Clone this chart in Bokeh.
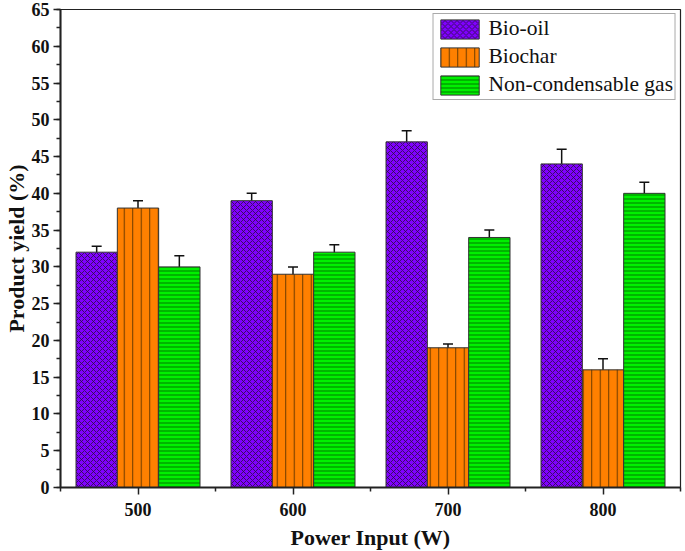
from bokeh.plotting import figure
from bokeh.models import ColumnDataSource, FixedTicker, Whisker, TeeHead, Legend, LegendItem
from bokeh.embed import file_html
from bokeh.resources import INLINE

# ---- data ----
power = [500, 600, 700, 800]
bio_oil = [32, 39, 47, 44]
bio_oil_err = [0.8, 1.0, 1.5, 2.0]
biochar = [38, 29, 19, 16]
biochar_err = [1.0, 1.0, 0.5, 1.5]
gas = [30, 32, 34, 40]
gas_err = [1.5, 1.0, 1.0, 1.5]
series_names = ["Bio-oil", "Biochar", "Non-condensable gas"]
y_ticks = list(range(0, 66, 5))

bar_w = 100 * 0.8 / 3

FONT = "Liberation Serif"

p = figure(frame_width=620, frame_height=478, x_range=(450, 850), y_range=(0, 65),
           output_backend="svg", toolbar_location=None,
           min_border_left=51, min_border_right=3, min_border_top=9, min_border_bottom=60)

p.xgrid.visible = False
p.ygrid.visible = False
p.outline_line_color = "#222222"
p.outline_line_width = 1.2
p.background_fill_color = "white"
p.border_fill_color = "white"

styles = [
    dict(color="#8000FF", hatch_pattern="x", hatch_scale=6, hatch_color="#2a1040", hatch_weight=0.8),
    dict(color="#FF8000", hatch_pattern="|", hatch_scale=8.5, hatch_color="#6a3a00", hatch_weight=1.0),
    dict(color="#00F000", hatch_pattern="-", hatch_scale=4, hatch_color="#007a00", hatch_weight=1.0),
]
vals = [bio_oil, biochar, gas]
errs = [bio_oil_err, biochar_err, gas_err]
offsets = [-bar_w, 0, bar_w]

items = []
for name, v, e, off, st in zip(series_names, vals, errs, offsets, styles):
    xs = [pw + off for pw in power]
    src = ColumnDataSource(dict(x=xs, top=v, upper=[a + b for a, b in zip(v, e)],
                                lower=[a - b for a, b in zip(v, e)]))
    r = p.vbar(x="x", top="top", width=bar_w, bottom=0, source=src,
               fill_color=st["color"], line_color="#333333", line_width=1,
               hatch_pattern=st["hatch_pattern"], hatch_scale=st["hatch_scale"],
               hatch_color=st["hatch_color"], hatch_weight=st["hatch_weight"])
    items.append(LegendItem(label=name, renderers=[r]))
    w = Whisker(source=src, base="x", upper="upper", lower="lower",
                line_color="#111111", line_width=1.5,
                upper_head=TeeHead(size=10, line_color="#111111", line_width=1.5),
                lower_head=TeeHead(size=10, line_color="#111111", line_width=1.5))
    p.add_layout(w)

legend = Legend(items=items, location="top_right", margin=4, padding=2, spacing=3,
                glyph_width=48, glyph_height=24, label_height=24, label_standoff=5,
                label_text_font=FONT, label_text_font_size="21.5px", label_text_color="#111111",
                border_line_color="#555555", border_line_width=1,
                background_fill_color="white", background_fill_alpha=1.0)
p.add_layout(legend)

# axes
p.xaxis.ticker = FixedTicker(ticks=power, minor_ticks=[450, 550, 650, 750, 850])
p.yaxis.ticker = FixedTicker(ticks=y_ticks, minor_ticks=[i * 2.5 for i in range(27)])
for ax in (p.xaxis[0], p.yaxis[0]):
    ax.axis_line_width = 2
    ax.axis_line_color = "#222222"
    ax.major_tick_line_color = "#222222"
    ax.minor_tick_line_color = "#222222"
    ax.major_tick_line_width = 1.5
    ax.minor_tick_line_width = 1.5
    ax.major_tick_out = 7
    ax.major_tick_in = 0
    ax.minor_tick_out = 4
    ax.minor_tick_in = 0
    ax.major_label_text_font = FONT
    ax.major_label_text_font_style = "bold"
    ax.major_label_text_font_size = "18px"
    ax.major_label_text_color = "#111111"
    ax.axis_label_text_font = FONT
    ax.axis_label_text_font_style = "bold"
    ax.axis_label_text_font_size = "22px"
    ax.axis_label_text_color = "#111111"

p.xaxis.axis_label = "Power Input (W)"
p.yaxis.axis_label = "Product yield (%)"
p.xaxis.major_label_standoff = 8
p.xaxis.axis_label_standoff = 6
p.yaxis.major_label_standoff = 4
p.yaxis.axis_label_standoff = 0

open("out.html", "w").write(file_html(p, INLINE))
